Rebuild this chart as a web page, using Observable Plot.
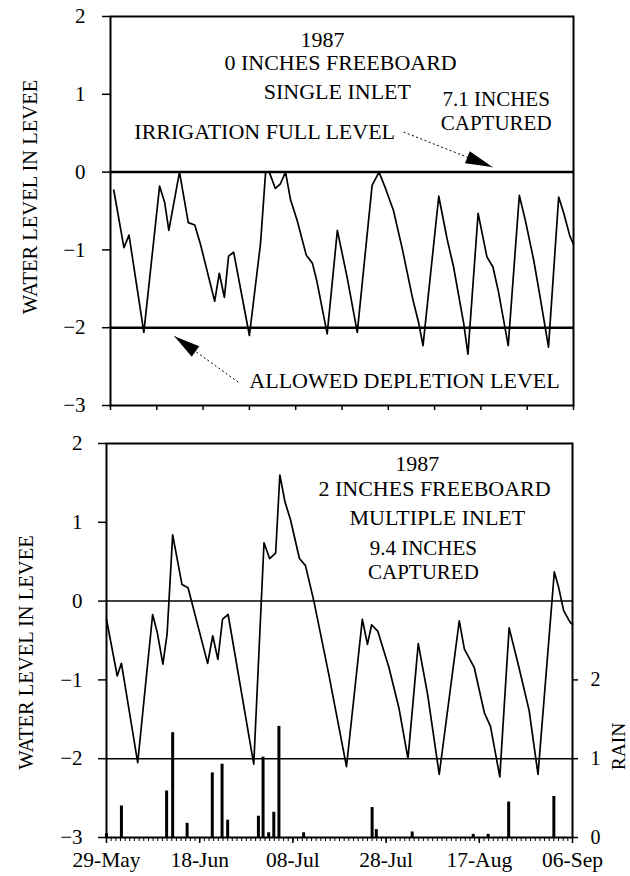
<!DOCTYPE html>
<html><head><meta charset="utf-8">
<script src="https://cdn.jsdelivr.net/npm/d3@7"></script>
<script src="https://cdn.jsdelivr.net/npm/@observablehq/plot@0.6"></script>
<style>
body{margin:0;background:#fff;}
#chart{width:630px;}
#chart svg{display:block;}
</style></head><body><div id="chart"></div>
<script>
// ---- data (days after 29-May-1987) ----
const tickDays = [0, 20, 40, 60, 80, 100];
const tickLabels = ["29-May", "18-Jun", "08-Jul", "28-Jul", "17-Aug", "06-Sep"];
const levelTicks = [-3, -2, -1, 0, 1, 2];
const rainTicks = [0, 1, 2];

// top panel: 0 inches freeboard, single inlet
const topDays  = [0.7, 2.9, 4, 7.2, 10.6, 11.7, 12.6, 14.9, 16.8, 18.2, 19.4, 22.5, 23.5, 24.6, 25.5, 26.6, 30, 32.4, 33.5, 34.3, 35.6, 36.7, 37.8, 38.9, 40.3, 42.3, 43.6, 44.6, 46.8, 49, 51.1, 53.3, 56.5, 58, 59.4, 61.1, 63, 65.2, 66.6, 67.5, 70.9, 72.7, 74.1, 76.3, 77.2, 79.4, 81.3, 82.6, 83.8, 85.9, 88.3, 89.6, 91.4, 92.8, 94.6, 96.8, 97.9, 99.2, 100];
const topLevel = [-0.23, -0.97, -0.81, -2.06, -0.18, -0.39, -0.75, 0, -0.65, -0.68, -0.92, -1.66, -1.30, -1.61, -1.08, -1.03, -2.10, -0.92, 0, 0, -0.21, -0.15, 0, -0.36, -0.62, -1.07, -1.17, -1.41, -2.08, -0.75, -1.35, -2.06, -0.17, 0, -0.21, -0.49, -0.98, -1.61, -1.95, -2.23, -0.31, -0.86, -1.22, -1.95, -2.34, -0.53, -1.09, -1.22, -1.54, -2.23, -0.30, -0.62, -1.13, -1.61, -2.25, -0.32, -0.53, -0.82, -0.93];

// bottom panel: 2 inches freeboard, multiple inlet
const botDays  = [0, 2.3, 3.2, 6.7, 9.9, 10.9, 12.1, 13, 14.2, 16.2, 17.5, 21.7, 22.8, 23.9, 24.9, 26.1, 31.6, 33.8, 35, 36.3, 37.2, 38.3, 39.5, 41.4, 42.7, 44.5, 47.7, 51.5, 54.9, 56, 56.9, 58.2, 60.6, 62.8, 64.7, 66.9, 68.9, 71.4, 75.7, 76.8, 78.9, 81.1, 82.4, 84.4, 86.4, 88.5, 90.7, 92.6, 96.1, 97, 98.1, 99.5, 100];
const botLevel = [-0.23, -0.95, -0.79, -2.05, -0.17, -0.40, -0.80, -0.42, 0.84, 0.21, 0.17, -0.79, -0.44, -0.74, -0.23, -0.17, -2.07, 0.74, 0.54, 0.61, 1.60, 1.26, 1.03, 0.54, 0.45, 0, -0.93, -2.10, -0.23, -0.55, -0.30, -0.38, -0.84, -1.37, -2.00, -0.54, -1.18, -2.20, -0.25, -0.61, -0.84, -1.42, -1.59, -2.23, -0.34, -0.84, -1.39, -2.20, 0.37, 0.18, -0.12, -0.27, -0.30];

// daily rain (inches)
const rainDays   = [0, 3.2, 12.9, 14.2, 17.3, 22.7, 24.8, 26, 32.6, 33.6, 34.8, 35.9, 37, 42.3, 57, 57.9, 65.6, 78.7, 81.9, 86.3, 96];
const rainInches = [0.05, 0.40, 0.59, 1.33, 0.18, 0.82, 0.93, 0.22, 0.27, 1.02, 0.06, 0.32, 1.41, 0.06, 0.38, 0.10, 0.07, 0.04, 0.04, 0.45, 0.52];

const topNotes = ["1987", "0 INCHES FREEBOARD", "SINGLE INLET", "7.1 INCHES\nCAPTURED", "IRRIGATION FULL LEVEL", "ALLOWED DEPLETION LEVEL"];
const botNotes = ["1987", "2 INCHES FREEBOARD", "MULTIPLE INLET", "9.4 INCHES\nCAPTURED"];
const yLabel = "WATER LEVEL IN LEVEE";
const rainLabel = "RAIN";

// ---- tables ----
const topData = topDays.map((d, i) => ({day: d, level: topLevel[i]}));
const botData = botDays.map((d, i) => ({day: d, level: botLevel[i]}));
const rainData = rainDays.map((d, i) => ({day: d, rain: rainInches[i]}));

const FONT = "'Liberation Serif', 'Times New Roman', serif";
const W = 630;
const levelFmt = d => d < 0 ? "\u2212" + Math.abs(d) : String(d);
const dayFmt = d => tickLabels[tickDays.indexOf(d)];

function headSymbol(ang, len, half) {
  const c = Math.cos(ang), s = Math.sin(ang);
  return {
    draw(ctx) {
      const bx = -len * c, by = -len * s;
      const px = -s * half, py = c * half;
      ctx.moveTo(0, 0);
      ctx.lineTo(bx + px, by + py);
      ctx.lineTo(bx - px, by - py);
      ctx.closePath();
    }
  };
}

// ---- top panel ----
const T = {h: 425, mt: 16, mb: 20, ml: 110, mr: 57};
const tkx = (W - T.ml - T.mr) / 100, tky = (T.h - T.mt - T.mb) / 5;
const topArrows = [
  {x1: 63.3, y1: 0.515, x2: 82.5, y2: 0.064},
  {x1: 27.6, y1: -2.70, x2: 13.8, y2: -2.11}
];
topArrows.forEach(a => { a.ang = Math.atan2(-(a.y2 - a.y1) * tky, (a.x2 - a.x1) * tkx); });
const topNotePos = [
  {x: 45.8, y: 1.70}, {x: 49.7, y: 1.40}, {x: 49.0, y: 1.03}, {x: 83.3, y: 0.79},
  {x: 33.3, y: 0.52}, {x: 63.5, y: -2.69}
].map((p, i) => ({...p, t: topNotes[i]}));

const topPlot = Plot.plot({
  width: W, height: T.h,
  marginTop: T.mt, marginBottom: T.mb, marginLeft: T.ml, marginRight: T.mr,
  style: {fontFamily: FONT, fontSize: "21px", color: "black", background: "white", overflow: "visible"},
  x: {domain: [0, 100]},
  y: {domain: [-3, 2]},
  marks: [
    Plot.frame({strokeWidth: 2}),
    Plot.ruleY([0, -2], {strokeWidth: 2.5}),
    Plot.axisY({ticks: levelTicks, tickSize: 8, tickPadding: 17, tickFormat: levelFmt, label: null, fontSize: 21, strokeWidth: 1.5}),
    Plot.axisX({ticks: d3.range(0, 101, 10), tickSize: 5, tickFormat: () => "", label: null, strokeWidth: 1.5}),
    Plot.line(topData, {x: "day", y: "level", strokeWidth: 1.7, stroke: "black"}),
    Plot.text([yLabel], {frameAnchor: "left", textAnchor: "middle", dx: -80, dy: -14, rotate: -90, fontSize: 20.5}),
    Plot.text(topNotePos.filter(d => !d.t.includes("\n")), {x: "x", y: "y", text: "t", fontSize: 22}),
    Plot.text(topNotePos.filter(d => d.t.includes("\n")), {x: "x", y: "y", text: "t", fontSize: 21, lineHeight: 1.12}),
    Plot.link(topArrows, {x1: "x1", y1: "y1", x2: "x2", y2: "y2", strokeWidth: 1, strokeDasharray: "2,2.5"}),
    Plot.dot([topArrows[0]], {x: "x2", y: "y2", symbol: headSymbol(topArrows[0].ang, 27, 6.5), fill: "black", stroke: "none"}),
    Plot.dot([topArrows[1]], {x: "x2", y: "y2", symbol: headSymbol(topArrows[1].ang, 26, 6.5), fill: "black", stroke: "none"})
  ]
});

// ---- bottom panel ----
const B = {h: 451, mt: 18, mb: 39, ml: 106, mr: 58};
const botNotePos = [
  {x: 66.7, y: 1.74}, {x: 70.4, y: 1.42}, {x: 71.0, y: 1.06}, {x: 68.0, y: 0.53}
].map((p, i) => ({...p, t: botNotes[i]}));

const botPlot = Plot.plot({
  width: W, height: B.h,
  marginTop: B.mt, marginBottom: B.mb, marginLeft: B.ml, marginRight: B.mr,
  style: {fontFamily: FONT, fontSize: "21px", color: "black", background: "white", overflow: "visible"},
  x: {domain: [0, 100]},
  y: {domain: [-3, 2]},
  marks: [
    Plot.ruleX(rainData, {x: "day", y1: -3, y2: d => d.rain - 3, strokeWidth: 3, stroke: "black"}),
    Plot.frame({strokeWidth: 2}),
    Plot.ruleY([0, -2], {strokeWidth: 1.5}),
    Plot.line(botData, {x: "day", y: "level", strokeWidth: 1.7, stroke: "black"}),
    Plot.axisY({ticks: levelTicks, tickSize: 8, tickPadding: 16, tickFormat: levelFmt, label: null, fontSize: 21, strokeWidth: 1.5}),
    Plot.axisY({anchor: "right", ticks: rainTicks.map(r => r - 3), tickSize: 5, tickPadding: 13, tickFormat: d => String(d + 3), label: null, fontSize: 20, strokeWidth: 1.5}),
    Plot.axisX({ticks: d3.range(0, 101, 1), tickSize: 4, tickFormat: () => "", label: null}),
    Plot.axisX({ticks: tickDays, tickSize: 6, tickPadding: 8, tickFormat: dayFmt, label: null, fontSize: 21.5, strokeWidth: 1.5}),
    Plot.text([yLabel], {frameAnchor: "left", textAnchor: "middle", dx: -80, dy: 12, rotate: -90, fontSize: 20.5}),
    Plot.text([rainLabel], {frameAnchor: "right", textAnchor: "middle", dx: 46, dy: 106, rotate: -90, fontSize: 19.5}),
    Plot.text(botNotePos.filter(d => !d.t.includes("\n")), {x: "x", y: "y", text: "t", fontSize: 22}),
    Plot.text(botNotePos.filter(d => d.t.includes("\n")), {x: "x", y: "y", text: "t", fontSize: 21, lineHeight: 1.12})
  ]
});

const root = document.getElementById("chart");
root.appendChild(topPlot);
root.appendChild(botPlot);
</script>
</body></html>
